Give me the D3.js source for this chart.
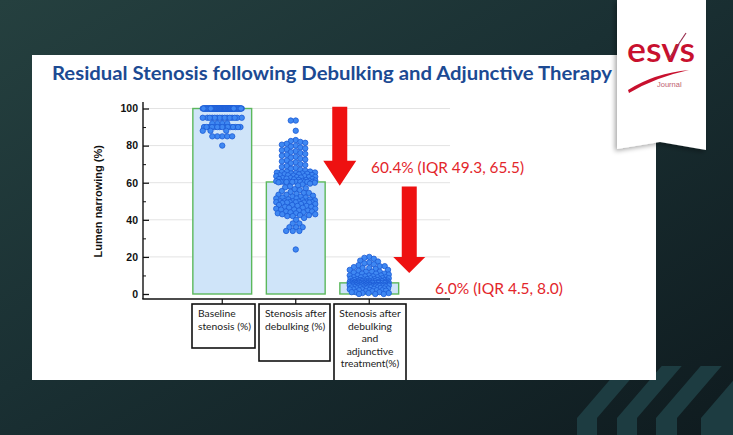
<!DOCTYPE html>
<html><head><meta charset="utf-8">
<script src="https://cdn.jsdelivr.net/npm/d3@7"></script>
<style>html,body{margin:0;padding:0;background:#142427;overflow:hidden}</style>
</head><body><svg id="c" width="733" height="435"></svg>
<script>
// ---------- data ----------
const title = "Residual Stenosis following Debulking and Adjunctive Therapy";
const yLabel = "Lumen narrowing (%)";
const categories = ["Baseline stenosis (%)", "Stenosis after debulking (%)", "Stenosis after debulking and adjunctive treatment(%)"];
const categoryLines = [["Baseline", "stenosis (%)"], ["Stenosis after", "debulking (%)"], ["Stenosis after", "debulking", "and", "adjunctive", "treatment(%)"]];
const barValues = [100, 60.4, 6.0];
const yTicks = [0, 20, 40, 60, 80, 100];
const yMinorTicks = [10, 30, 50, 70, 90];
const annotationTexts = ["60.4% (IQR 49.3, 65.5)", "6.0% (IQR 4.5, 8.0)"];
const arrowFrom = [101, 58];
const arrowTo = [58.3, 11.3];

const baselineValues = [
  100,100,100,100,100,100,100,100,100,100,
  100,100,100,100,100,100,100,100,100,100,
  100,100,100,100,100,100,100,100,100,100,
  100,100,100,100,100,100,100,100,100,100,
  100,100,100,100,100,100,100,100,100,100,
  100,100,100,100,100,100,100,100,100,100,
  100,100,100,100,100,100,100,100,100,100,
  100,100,100,100,100,100,100,100,100,100,
  100,100,100,100,100,100,100,100,100,100,
  100,100,100,100,100,100,100,100,100,100,
  100,100,100,100,100,100,100,100,100,100,
  100,100,100,100,100,100,100,
  95,95,95,95,95,95,95,95,95,95,95,95,95,95,95,
  92,92,92,92,
  90,90,90,90,90,90,90,90,90,90,90,90,90,90,90,
  88,88,88,
  85,85,85,85,85,
  80
];
const debulkValues = [
  93.5,93.5,88,83,82.5,82,81.5,81,80.5,80,
  79.5,79,78.5,78,77.5,77,76.5,76,75.5,75,
  74.5,74,73.5,73,72.5,72,71.5,71,70.5,70,
  69.5,69,68.5,68,67.5,67,66.5,66,66,65.8,
  65.5,65.5,65.2,65,65,64.8,64.5,64.5,64.2,64,
  64,63.8,63.5,63.5,63.2,63,63,62.8,62.5,62.5,
  62.2,62,62,61.8,61.5,61.5,61.2,61,61,60.8,
  60.6,60.5,60.5,60.5,60.4,60.4,60.4,60.4,60.4,60.4,
  60.2,60,59.5,59,58.5,58,57.5,57,56.5,56,
  55.5,55,54.5,54.5,54,53.5,53.5,53,52.5,52.5,
  52,52,51.5,51.5,51,51,50.5,50.5,50,50,
  50,49.8,49.8,49.5,49.5,49.5,49.4,49.3,49.3,49.3,
  49,48.5,48.5,48,48,47.5,47.5,47,47,46.5,
  46.5,46,46,45.5,45.5,45,45,44.5,44.5,44,
  44,43.5,43.5,43,43,42.5,42.5,42,42,41,
  40,38,38,36,36,36,34,34,34,24
];
const adjunctiveValues = [
  20,19.5,19,18,17.5,17,16.5,16,15.5,15,
  15,14.5,14,14,13.5,13,13,12.5,12,12,
  12,11.5,11,11,11,10.5,10,10,10,10,
  9.5,9.5,9,9,9,9,8.5,8.5,8.5,8.2,
  8,8,8,7.8,7.8,7.5,7.5,7.5,7.5,7.2,
  7.2,7,7,7,7,7,6.8,6.8,6.5,6.5,
  6.5,6.5,6.5,6.3,6.3,6.2,6.2,6.2,6,6,
  6,6,6,6,6,6,6,6,6,6,
  6,6,6,5.8,5.8,5.5,5.5,5.5,5.5,5.5,
  5.3,5.2,5.2,5,5,5,5,5,5,5,
  5,4.8,4.8,4.8,4.7,4.7,4.6,4.5,4.5,4.5,
  4.5,4.5,4.5,4.5,4.5,4.5,4.5,4.5,4.5,4.5,
  4.3,4.2,4,4,4,4,4,4,3.8,3.8,
  3.5,3.5,3.5,3.5,3.2,3,3,3,3,3,
  2.8,2.5,2.5,2.5,2.2,2,2,2,1.8,1.5,
  1.5,1,1,1,0.5,0.5,0.5,0,0,0
];
const groups = [baselineValues, debulkValues, adjunctiveValues];

// ---------- drawing ----------
const svg = d3.select("#c");
const defs = svg.append("defs");
const bg = defs.append("linearGradient").attr("id","bg").attr("x1","0").attr("y1","0").attr("x2","1").attr("y2","1");
bg.append("stop").attr("offset","0%").attr("stop-color","#25403f");
bg.append("stop").attr("offset","45%").attr("stop-color","#1a3033");
bg.append("stop").attr("offset","100%").attr("stop-color","#0f1b1f");
defs.append("clipPath").attr("id","panelClip").append("rect").attr("x",32).attr("y",55).attr("width",624).attr("height",325);
const sh = defs.append("filter").attr("id","shadow").attr("x","-20%").attr("y","-5%").attr("width","140%").attr("height","115%");
sh.append("feGaussianBlur").attr("in","SourceAlpha").attr("stdDeviation",2.5);
sh.append("feOffset").attr("dx",-2).attr("dy",2).attr("result","b");
sh.append("feComponentTransfer").append("feFuncA").attr("type","linear").attr("slope",0.35);
const m = sh.append("feMerge"); m.append("feMergeNode"); m.append("feMergeNode").attr("in","SourceGraphic");

svg.append("rect").attr("width",733).attr("height",435).attr("fill","url(#bg)");

// decorative stripes
const stripes = [[577,20],[617,20],[656,21],[701,40]];
stripes.forEach(([L,W]) => {
  const topY = 366, midY = 418, dx = 0.86*(midY-topY);
  svg.append("path").attr("fill","#1d3c41")
    .attr("d",`M${L},435 L${L},${midY} L${L+dx},${topY} L${L+dx+W},${topY} L${L+W},${midY} L${L+W},435 Z`);
});

// white panel
svg.append("rect").attr("x",32).attr("y",55).attr("width",624).attr("height",325).attr("fill","#ffffff");

// ribbon
svg.append("path").attr("fill","#ffffff").attr("filter","url(#shadow)")
  .attr("d","M617,0 L706,0 L706,150 L660,142 L617,149 Z");
// logo
const logoColor = "#c8102e";
svg.append("text").attr("x",627).attr("y",62).attr("font-family","Lato, 'Open Sans', sans-serif").attr("font-weight","600")
  .attr("font-size",35).attr("fill",logoColor).attr("textLength",68).attr("lengthAdjust","spacingAndGlyphs").text("esvs");
svg.append("path").attr("fill",logoColor)
  .attr("d","M628,90 Q655,73 689,70 Q656,77 629,93 Z");
svg.append("path").attr("stroke","#9a3050").attr("stroke-width",1.2).attr("fill","none")
  .attr("d","M668,60 L686,33");
svg.append("text").attr("x",657).attr("y",87).attr("font-family","Liberation Sans, Arial, sans-serif")
  .attr("font-size",7.5).attr("fill","#c0606f").text("Journal");

// title
svg.append("text").attr("x",52).attr("y",80).attr("font-family","Lato, 'Open Sans', sans-serif")
  .attr("font-weight","bold").attr("font-size",18.5).attr("fill","#1c4a93")
  .attr("textLength",560).attr("lengthAdjust","spacingAndGlyphs").text(title);

// scales
const y = d3.scaleLinear().domain([0,100]).range([294,108.5]);
const x = d3.scaleBand().domain(categories).range([185.5,406]).paddingInner(0.2).paddingOuter(0.1);
const axisX0 = 143, axisX1 = 450, axisY = 299;

const plot = svg.append("g");
// grid
plot.selectAll("line.grid").data(yTicks.filter(d=>d>0)).join("line")
  .attr("x1",axisX0+5).attr("x2",axisX1).attr("y1",d=>y(d)).attr("y2",d=>y(d))
  .attr("stroke","#e3e3e3").attr("stroke-width",1);

// bars
plot.selectAll("rect.bar").data(categories).join("rect")
  .attr("x",d=>x(d)).attr("width",x.bandwidth())
  .attr("y",(d,i)=>y(barValues[i])).attr("height",(d,i)=>y(0)-y(barValues[i]))
  .attr("fill","#cfe4f9").attr("stroke","#5cb85c").attr("stroke-width",1.4);

// beeswarm with bounded width
const r = 2.7, dmin = 2*r*0.92, half = 19.5;
function swarm(values) {
  const sorted = values.slice().sort((a,b)=>b-a);
  const placed = [];
  for (const v of sorted) {
    const py = y(v);
    const near = placed.filter(p=>Math.abs(p.y-py) < dmin);
    const cands = [0];
    near.forEach(p=>{ const w = Math.sqrt(dmin*dmin-(p.y-py)**2); cands.push(p.x-w-1e-6, p.x+w+1e-6); });
    let best = null;
    for (const c of cands) {
      if (Math.abs(c) > half) continue;
      if (near.every(p=>(p.x-c)**2+(p.y-py)**2 >= dmin*dmin - 1e-6)) {
        if (best===null || Math.abs(c) < Math.abs(best)) best = c;
      }
    }
    if (best===null) {
      let bestScore = -1;
      for (let c=-half; c<=half+1e-9; c+=0.25) {
        let md = Infinity;
        near.forEach(p=>{ md = Math.min(md, Math.hypot(p.x-c, p.y-py)); });
        if (md > bestScore + 1e-9 || (Math.abs(md-bestScore)<1e-9 && Math.abs(c)<Math.abs(best))) { bestScore = md; best = c; }
      }
    }
    placed.push({v, x:best, y:py});
  }
  return placed;
}
groups.forEach((vals,gi)=>{
  const cx = x(categories[gi]) + x.bandwidth()/2;
  const pts = swarm(vals);
  plot.append("g").selectAll("circle").data(pts).join("circle")
    .attr("cx",d=>cx+d.x).attr("cy",d=>y(d.v)).attr("r",r)
    .attr("fill","#3f88f2").attr("stroke","#1c5bd4").attr("stroke-width",0.8);
});

// axes
const yAxis = d3.axisLeft(y).tickValues(yTicks).tickSize(-6).tickSizeOuter(0).tickPadding(5);
const gy = svg.append("g").attr("transform",`translate(${axisX0},0)`).call(yAxis);
gy.select(".domain").remove();
gy.selectAll("text").attr("font-family","Liberation Sans, Arial, sans-serif").attr("font-weight","bold").attr("font-size",10.5).attr("fill","#111");
gy.selectAll("line").attr("stroke","#111").attr("stroke-width",1.3);
const yMinor = d3.axisLeft(y).tickValues(yMinorTicks).tickSize(-3).tickFormat("");
const gym = svg.append("g").attr("transform",`translate(${axisX0},0)`).call(yMinor);
gym.select(".domain").remove();
gym.selectAll("line").attr("stroke","#111").attr("stroke-width",1);
svg.append("line").attr("x1",axisX0).attr("x2",axisX0).attr("y1",102).attr("y2",axisY).attr("stroke","#111").attr("stroke-width",1.4);
svg.append("line").attr("x1",axisX0-0.7).attr("x2",axisX1).attr("y1",axisY).attr("y2",axisY).attr("stroke","#111").attr("stroke-width",1.4);
const xAxis = d3.axisBottom(x).tickSize(5).tickFormat("").tickSizeOuter(0);
const gx = svg.append("g").attr("transform",`translate(0,${axisY})`).call(xAxis);
gx.select(".domain").remove();
gx.selectAll("line").attr("stroke","#111").attr("stroke-width",1.2);

// y label
svg.append("text").attr("transform",`translate(102,${y(50)}) rotate(-90)`).attr("text-anchor","middle")
  .attr("font-family","Liberation Sans, Arial, sans-serif").attr("font-weight","bold").attr("font-size",11)
  .attr("fill","#111").text(yLabel);

// arrows
const arrowSpecs = [
  {cx: x(categories[1]) + x.bandwidth()/2 + 44, shaft: 15, head: 33, headH: 25},
  {cx: x(categories[2]) + x.bandwidth()/2 + 40, shaft: 15, head: 32, headH: 16}
];
arrowSpecs.forEach((a,i)=>{
  const yt = y(arrowFrom[i]), yb = y(arrowTo[i]), yh = yb - a.headH;
  svg.append("path").attr("fill","#ee1111")
    .attr("d",`M${a.cx-a.shaft/2},${yt} L${a.cx+a.shaft/2},${yt} L${a.cx+a.shaft/2},${yh} L${a.cx+a.head/2},${yh} L${a.cx},${yb} L${a.cx-a.head/2},${yh} L${a.cx-a.shaft/2},${yh} Z`);
});

// annotation texts
const annPos = [{x:371, v:barValues[1]+4.6, len:153}, {x:435, v:barValues[2]-6, len:128}];
annotationTexts.forEach((t,i)=>{
  svg.append("text").attr("x",annPos[i].x).attr("y",y(annPos[i].v))
    .attr("font-family","Lato, 'Open Sans', sans-serif").attr("font-size",15).attr("fill","#e3262b")
    .attr("textLength",annPos[i].len).attr("lengthAdjust","spacingAndGlyphs").text(t);
});

// category boxes
const boxSpecs = [
  {x0:192, x1:255, y1:348, align:"start"},
  {x0:259, x1:330, y1:361, align:"start"},
  {x0:334, x1:406, y1:392, align:"middle"}
];
const boxes = svg.append("g").attr("clip-path","url(#panelClip)");
boxSpecs.forEach((b,i)=>{
  boxes.append("rect").attr("x",b.x0).attr("y",304).attr("width",b.x1-b.x0).attr("height",b.y1-304)
    .attr("fill","#fff").attr("stroke","#111").attr("stroke-width",1.6);
  const tx = b.align==="start" ? b.x0+6 : (b.x0+b.x1)/2;
  const t = boxes.append("text").attr("text-anchor",b.align)
    .attr("font-family","Lato, 'Open Sans', sans-serif").attr("font-size",10.3).attr("fill","#222");
  categoryLines[i].forEach((ln,k)=>{
    t.append("tspan").attr("x",tx).attr("y",317+k*12.6).text(ln);
  });
});
</script>
</body></html>
